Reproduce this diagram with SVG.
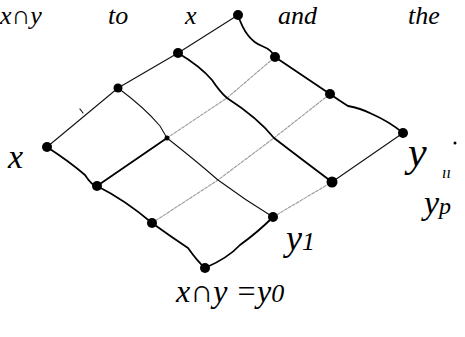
<svg xmlns="http://www.w3.org/2000/svg" width="465" height="337" viewBox="0 0 465 337">
<style>
.d{fill:none;stroke:#000;stroke-width:1.8;stroke-linecap:round;stroke-linejoin:round}
.t{fill:none;stroke:#111;stroke-width:1.1;stroke-linecap:round}
.l{fill:none;stroke:#9a9a9a;stroke-width:1.1;stroke-dasharray:3 1.5;stroke-linecap:round}
.n{fill:#000}
.h{font-family:"Liberation Serif",serif;font-style:italic;fill:#000}
</style>
<rect width="465" height="337" fill="#fff"/>
<g id="connectors">
<path class="t" d="M47,147 L118,88 L178,53 L238,15"/>
<path class="d" d="M238,15 Q246,40 262,46 Q272,50 275,57 L330,94 Q340,101 348,106 Q360,108 372,114 Q390,122 403,133"/>
<path class="d" d="M47,147 Q70,162 85,175 Q92,186 97,186 Q125,200 152,223 Q170,236 188,248 Q198,262 205,268"/>
<path class="d" d="M205,268 Q228,258 240,245 Q258,232 273,217"/>
<path class="l" d="M273,217 L332,182"/>
<path class="t" d="M332,182 L403,133" stroke="#555"/>
<path class="l" d="M152,223 L218,180 L274,138 L330,94"/>
<path class="d" d="M97,186 L167,138" stroke-width="1.5"/>
<path class="l" d="M167,138 L227,98 L275,57"/>
<path class="t" d="M118,88 Q145,108 160,126 L167,138 Q195,160 218,180 Q245,200 273,217"/>
<path class="d" d="M178,53 Q200,66 212,80 Q220,92 227,98 Q258,118 274,138 Q300,158 332,182"/>
<path class="t" d="M80,109 L83,113"/>
</g>
<g id="n-top"><circle class="n" cx="238" cy="15" r="5"/></g>
<g id="n-31"><circle class="n" cx="178" cy="53" r="5"/></g>
<g id="n-23"><circle class="n" cx="275" cy="57" r="5"/></g>
<g id="n-32"><circle class="n" cx="118" cy="88" r="4.5"/></g>
<g id="n-13"><circle class="n" cx="330" cy="94" r="5"/></g>
<g id="n-21"><circle class="n" cx="167" cy="138" r="2.5"/></g>
<g id="n-x"><circle class="n" cx="47" cy="147" r="5"/></g>
<g id="n-y"><circle class="n" cx="403" cy="133" r="5"/></g>
<g id="n-20"><circle class="n" cx="97" cy="186" r="5"/></g>
<g id="n-02"><circle class="n" cx="332" cy="182" r="5.5"/></g>
<g id="n-10"><circle class="n" cx="152" cy="223" r="5"/></g>
<g id="n-01"><circle class="n" cx="273" cy="217" r="5"/></g>
<g id="n-bottom"><circle class="n" cx="205" cy="268" r="5"/></g>
<g id="labels">
<text class="h" x="0" y="24" font-size="26">x∩y</text>
<text class="h" x="108" y="24" font-size="26">to</text>
<text class="h" x="185" y="24" font-size="26">x</text>
<text class="h" x="278" y="24" font-size="26">and</text>
<text class="h" x="408" y="24" font-size="26">the</text>
<text class="h" x="8" y="168" font-size="34">x</text>
<text class="h" x="408" y="166" font-size="42">y</text>
<circle class="n" cx="455" cy="143" r="1.5"/>
<text class="h" x="442" y="178" font-size="16">ıı</text>
<text class="h" x="424" y="214" font-size="34">y<tspan font-size="24">p</tspan></text>
<text class="h" x="286" y="250" font-size="36">y<tspan font-size="26">1</tspan></text>
<text class="h" x="176" y="302" font-size="32">x∩y =y<tspan font-size="26">0</tspan></text>
</g>
</svg>
